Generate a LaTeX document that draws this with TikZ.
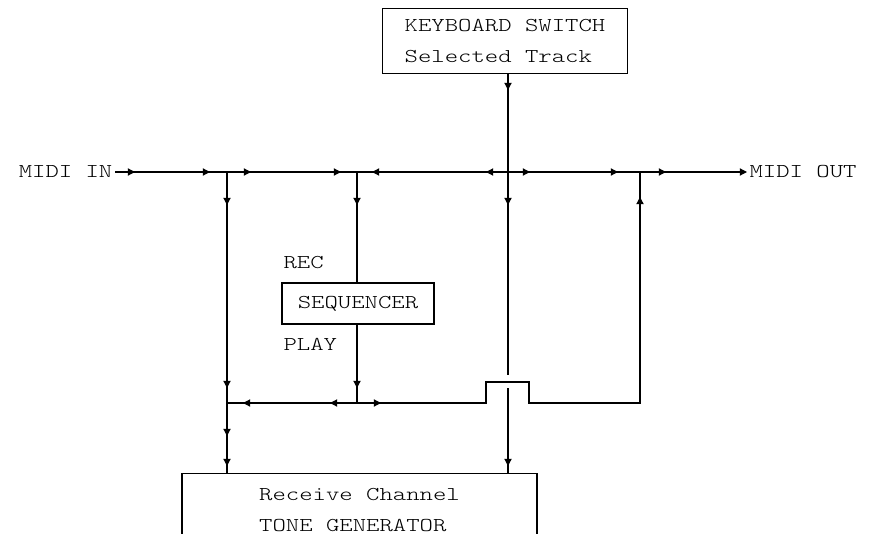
\documentclass[tikz,border=0pt]{standalone}
\usepackage{fontspec}
\setmonofont{lmmonolt10-regular.otf}[FakeStretch=1.3]
\usetikzlibrary{arrows.meta}

\tikzset{
  txt/.style={font=\ttfamily\fontsize{9.8}{15.5}\selectfont},
  lbl/.style={txt, inner sep=1pt},
  box/.style={txt, draw, align=left, inner sep=0pt},
  tip/.style={-{Triangle[length=3.6pt,width=3.6pt]}},
}

\begin{document}
\begin{tikzpicture}[x=0.5pt,y=-0.5pt,line width=0.6pt]
        \clip (0,0) rectangle (876,534);
        % boxes and labels
        \node[box, minimum width=122.5pt, minimum height=32.5pt] (kbd) at (505,41) {KEYBOARD SWITCH\\Selected Track};
        \node[box, minimum width=76pt, minimum height=20.5pt] (seq) at (358,303.5) {SEQUENCER};
        \node[box, anchor=north, minimum width=177.5pt, minimum height=36pt] (tone) at (359.5,473) {Receive Channel\\TONE GENERATOR};
        \node[lbl, anchor=east] (in) at (115,172) {MIDI IN};
        \node[lbl, anchor=west] (out) at (747,172) {MIDI OUT};
        \node[lbl, anchor=west, inner sep=0pt] (rec) at (283,263) {REC};
        \node[lbl, anchor=west, inner sep=0pt] (play) at (283,344) {PLAY};

        % junctions
        \coordinate (a) at (227,172);
        \coordinate (b) at (357,172);
        \coordinate (k) at (508,172);
        \coordinate (o) at (640,172);
        \coordinate (a2) at (227,403);
        \coordinate (b2) at (357,403);
        \coordinate (o2) at (640,403);
        \coordinate (h1) at (486,403);
        \coordinate (h2) at (529,403);
        \coordinate (k1) at (508,375);
        \coordinate (k2) at (508,388);

        % lines
        \draw[tip] (in) -- (out);
        \draw (a) -- (a |- tone.north);
        \draw (b) -- (b |- seq.north);
        \draw (b |- seq.south) -- (b2);
        \draw (kbd.south -| k) -- (k1);
        \draw (k2) -- (k |- tone.north);
        \draw (a2) -- (h1) -- ++(0,-21) -| (h2) -- (o2) -- (o);

        % direction marks
        \foreach \x in {135,210,251,341,530,618,666}
            \draw[tip] (\x-6,172) -- (\x,172);
        \foreach \x in {372,486}
            \draw[tip] (\x+6,172) -- (\x,172);
        \foreach \x/\y in {227/205,227/388,227/436,227/466,357/205,357/388,508/90,508/205,508/466}
            \draw[tip] (\x,\y-6) -- (\x,\y);
        \draw[tip] (640,203) -- (640,197);
        \foreach \x in {243,330}
            \draw[tip] (\x+6,403) -- (\x,403);
        \draw[tip] (375,403) -- (381,403);
\end{tikzpicture}
\end{document}
